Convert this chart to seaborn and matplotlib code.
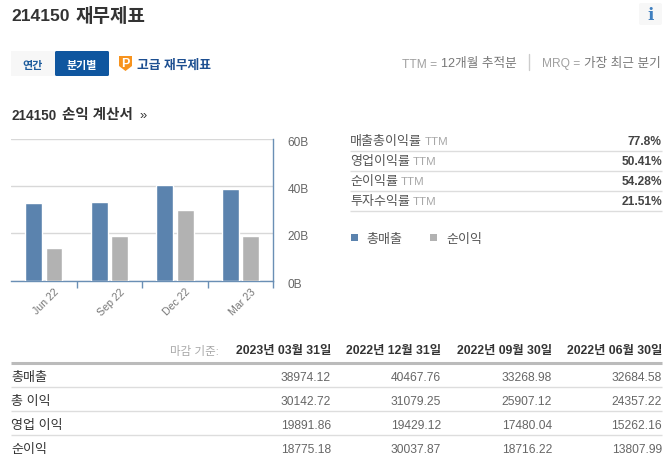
import pandas as pd
import seaborn as sns
import matplotlib.pyplot as plt
from matplotlib.patches import Rectangle, FancyBboxPatch, Polygon
from matplotlib.transforms import ScaledTranslation

W, H = 668, 464

quarters = ["Jun 22", "Sep 22", "Dec 22", "Mar 23"]
revenue = [32684.58, 33268.98, 40467.76, 38974.12]
gross_profit = [24357.22, 25907.12, 31079.25, 30142.72]
operating_income = [15262.16, 17480.04, 19429.12, 19891.86]
net_income = [13807.99, 18716.22, 30037.87, 18775.18]

y_ticks = [0, 20, 40, 60]
y_tick_labels = ["0B", "20B", "40B", "60B"]

ratio_names = ["매출총이익률", "영업이익률", "순이익률", "투자수익률"]
ratio_values = ["77.8%", "50.41%", "54.28%", "21.51%"]

period_ends = ["2023년 03월 31일", "2022년 12월 31일", "2022년 09월 30일", "2022년 06월 30일"]
row_names = ["총매출", "총 이익", "영업 이익", "순이익"]

BLUE = "#5b83ae"
GREY = "#b2b2b2"
NAVY = "#0f569f"
FONT = ["Liberation Sans", "Noto Sans CJK KR", "DejaVu Sans"]

sns.set_theme(style="white")
plt.rcParams["font.family"] = FONT

fig = plt.figure(figsize=(W / 100, H / 100), dpi=100, facecolor="white")

# page layer in pixel coordinates
page = fig.add_axes([0, 0, 1, 1])
page.set_xlim(0, W)
page.set_ylim(H, 0)
page.axis("off")


def put(x, y, s, px=12, color="#333333", weight="normal", ha="left"):
    return page.text(x, y + 2.5, s, fontsize=px * 0.72, color=color, fontweight=weight, ha=ha, va="center")


def hline(y, x0, x1, color="#dddddd", lw=1.0):
    page.plot([x0, x1], [y, y], color=color, lw=lw, solid_capstyle="butt")


# header
put(11, 14, "214150", px=17.5, weight="bold")
put(76, 14, "재무제표", px=19, weight="bold")
page.add_patch(FancyBboxPatch((639, 4), 23, 22, boxstyle="round,pad=0,rounding_size=2", fc="#f7f7f7", ec="none"))
page.text(650.5, 15, "i", fontsize=12, color="#3f7fbf", ha="center", va="center", family="DejaVu Serif", fontweight="bold")

# period buttons
page.add_patch(Rectangle((11, 52), 44, 25, fc="#f7f7f7", ec="none"))
page.add_patch(FancyBboxPatch((55, 52), 54, 25, boxstyle="round,pad=0,rounding_size=1.5", fc=NAVY, ec="none"))
put(33, 63.5, "연간", px=11, color="#1d5c9c", weight="bold", ha="center")
put(82, 63.5, "분기별", px=11, color="white", weight="bold", ha="center")

# orange badge
page.add_patch(Polygon([(119, 57), (132, 57), (132, 67), (125.5, 72), (119, 67)], fc="#f7931e", ec="none"))
page.text(125.5, 64, "P", fontsize=9, color="white", fontweight="bold", ha="center", va="center")
put(137, 63.5, "고급 재무제표", px=12.8, color="#1d4f91", weight="bold")

# TTM / MRQ note
put(402, 62, "TTM =", color="#a0a0a0")
put(441, 62, "12개월 추적분", px=12.6, color="#777777")
page.plot([529, 529], [55, 71], color="#cccccc", lw=1)
put(542, 62, "MRQ =", color="#a0a0a0")
put(584, 62, "가장 최근 분기", px=12.6, color="#777777")

put(11, 113, "214150", px=13.5, weight="bold")
put(62, 113, "손익 계산서", px=14.5, weight="bold")
put(139, 113.5, "»", px=13)

# ratios
for i, (name, value) in enumerate(zip(ratio_names, ratio_values)):
    y = 140 + 20 * i
    label = put(350, y, name, px=13, color="#555555")
    fig.canvas.draw()
    box = label.get_window_extent()
    put(box.x1 + 3, y, "TTM", px=11.5, color="#a8a8a8")
    put(662, y, value, color="#444444", weight="bold", ha="right")
    hline(152 + 20 * i, 350, 662)

# legend
page.add_patch(Rectangle((351, 235), 7, 7, fc=BLUE, ec="none"))
put(366, 238, "총매출", px=13, color="#555555")
page.add_patch(Rectangle((430, 235), 7, 7, fc=GREY, ec="none"))
put(446, 238, "순이익", px=13, color="#555555")

# table
put(219, 349, "마감 기준:", px=11.5, color="#a8a8a8", ha="right")
columns = [331, 441, 552, 662]
table = [
    revenue[::-1],
    gross_profit[::-1],
    operating_income[::-1],
    net_income[::-1],
]
for x, label in zip(columns, period_ends):
    put(x, 349, label, px=12.3, weight="bold", ha="right")
hline(364, 11, 662, color="#bbbbbb", lw=2.2)
for i, (name, row) in enumerate(zip(row_names, table)):
    y = 376 + 24 * i
    put(11, y, name, px=13, color="#333333")
    for x, value in zip(columns, row):
        put(x, y, f"{value:.2f}", color="#666666", ha="right")
    if i < 3:
        hline(388 + 24 * i, 11, 662)

# bar chart
df = pd.DataFrame(
    {
        "quarter": quarters * 2,
        "value": [v / 1000 for v in revenue] + [v / 1000 for v in net_income],
        "series": ["총매출"] * 4 + ["순이익"] * 4,
    }
)

ax = fig.add_axes([11 / W, 1 - 281.5 / H, 262.4 / W, 141.5 / H])
ax.patch.set_alpha(0)
sns.barplot(
    data=df,
    x="quarter",
    y="value",
    hue="series",
    palette=[BLUE, GREY],
    width=0.62,
    gap=0.18,
    saturation=1,
    legend=False,
    ax=ax,
    zorder=3,
)
ax.set_xlim(-0.5, 3.5)
ax.set_ylim(0, 60)
ax.set_xlabel("")
ax.set_ylabel("")

ax.yaxis.tick_right()
ax.set_yticks(y_ticks)
ax.set_yticklabels(y_tick_labels, color="#666666", fontsize=8.6)
ax.tick_params(axis="y", length=0, pad=10)
shift_down = ScaledTranslation(0, -3 / 100, fig.dpi_scale_trans)
for lab in ax.get_yticklabels():
    lab.set_verticalalignment("center")
    lab.set_transform(lab.get_transform() + shift_down)
ax.grid(axis="y", color="#d8d8d8", lw=1, zorder=0)
ax.set_axisbelow(True)

ax.set_xticks(range(4))
ax.set_xticklabels(quarters, rotation=45, color="#777777", fontsize=7.6)
ax.tick_params(axis="x", which="major", length=0, pad=4)
ax.set_xticks([0.5, 1.5, 2.5, 3.5], minor=True)
ax.tick_params(axis="x", which="minor", length=5, width=1, color="#6a8fb5", bottom=True)
shift_right = ScaledTranslation(2 / 100, 0, fig.dpi_scale_trans)
for lab in ax.get_xticklabels():
    lab.set_transform(lab.get_transform() + shift_right)

for side in ["top", "left"]:
    ax.spines[side].set_visible(False)
for side in ["bottom", "right"]:
    ax.spines[side].set_color("#6a8fb5")
    ax.spines[side].set_linewidth(1)

fig.savefig("out.png", dpi=100)
